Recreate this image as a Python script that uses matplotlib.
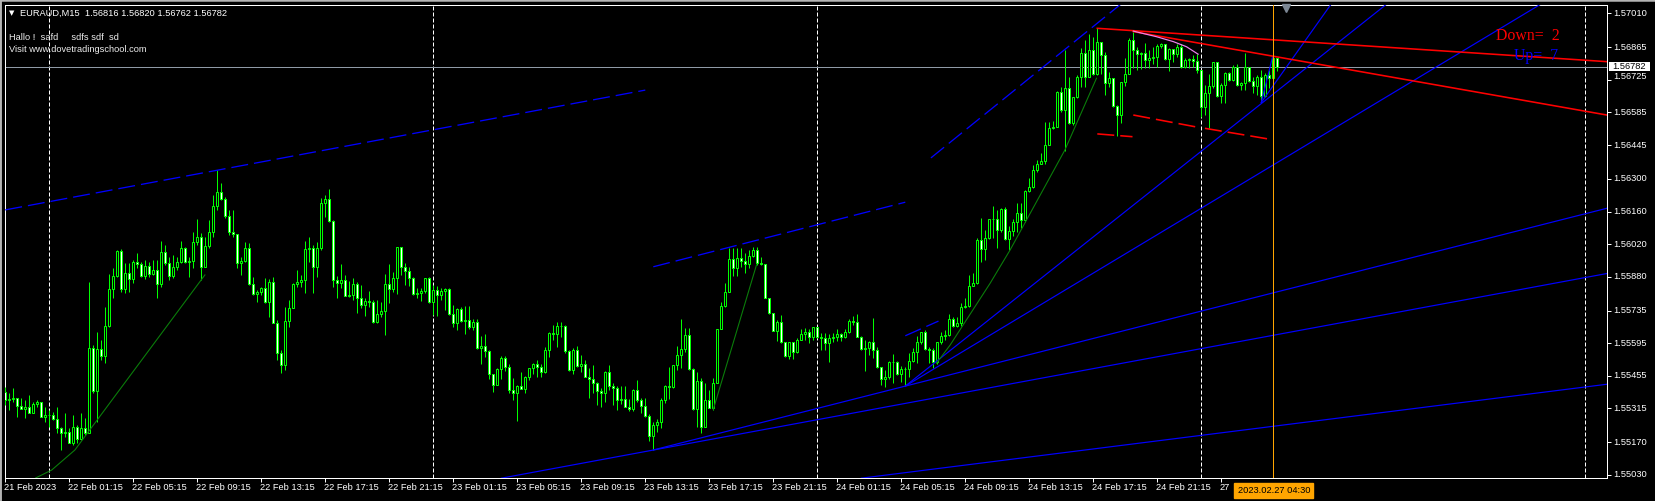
import numpy as np
import matplotlib.pyplot as plt
from matplotlib.lines import Line2D
from matplotlib.patches import Rectangle

# ---------------- data (EURAUD, M15) ----------------
symbol = 'EURAUD,M15'
ohlc_now = [1.56816, 1.56820, 1.56762, 1.56782]
first_open = 1.55387

closes = [
    1.55351, 1.55354, 1.55358, 1.55325, 1.55314, 1.55320, 1.55297, 1.55334, 1.55344, 1.55280, 1.55287, 1.55287, 1.55270, 1.55230, 1.55208, 1.55215,
    1.55168, 1.55237, 1.55183, 1.55230, 1.55208, 1.55573, 1.55390, 1.55569, 1.55540, 1.55670, 1.55826, 1.55885, 1.55990, 1.55827, 1.55895, 1.55870,
    1.55942, 1.55935, 1.55885, 1.55928, 1.55892, 1.55909, 1.55847, 1.55985, 1.55938, 1.55883, 1.55923, 1.55942, 1.56005, 1.55945, 1.55948, 1.56030,
    1.56052, 1.55920, 1.56013, 1.56073, 1.56185, 1.56245, 1.56213, 1.56141, 1.56073, 1.56062, 1.55938, 1.55948, 1.56002, 1.55849, 1.55805, 1.55816,
    1.55830, 1.55773, 1.55859, 1.55680, 1.55554, 1.55500, 1.55692, 1.55747, 1.55847, 1.55859, 1.55866, 1.55998, 1.56002, 1.55923, 1.56005, 1.56195,
    1.56213, 1.56121, 1.55866, 1.55852, 1.55866, 1.55799, 1.55804, 1.55849, 1.55790, 1.55761, 1.55776, 1.55770, 1.55687, 1.55719, 1.55733, 1.55849,
    1.55826, 1.55873, 1.56006, 1.55920, 1.55906, 1.55876, 1.55806, 1.55809, 1.55820, 1.55873, 1.55773, 1.55823, 1.55801, 1.55819, 1.55826, 1.55720,
    1.55680, 1.55740, 1.55691, 1.55694, 1.55666, 1.55684, 1.55575, 1.55583, 1.55563, 1.55463, 1.55415, 1.55483, 1.55530, 1.55494, 1.55394, 1.55382,
    1.55411, 1.55398, 1.55450, 1.55487, 1.55505, 1.55494, 1.55473, 1.55568, 1.55641, 1.55633, 1.55670, 1.55671, 1.55563, 1.55480, 1.55568, 1.55498,
    1.55505, 1.55451, 1.55440, 1.55423, 1.55390, 1.55380, 1.55473, 1.55413, 1.55404, 1.55351, 1.55354, 1.55322, 1.55312, 1.55394, 1.55351, 1.55327,
    1.55284, 1.55198, 1.55244, 1.55258, 1.55351, 1.55411, 1.55409, 1.55501, 1.55544, 1.55570, 1.55630, 1.55484, 1.55313, 1.55434, 1.55237, 1.55351,
    1.55318, 1.55423, 1.55654, 1.55756, 1.55816, 1.55955, 1.55919, 1.55959, 1.55949, 1.55933, 1.55970, 1.55995, 1.55940, 1.55933, 1.55790, 1.55723,
    1.55649, 1.55685, 1.55599, 1.55540, 1.55599, 1.55556, 1.55609, 1.55634, 1.55642, 1.55620, 1.55663, 1.55620, 1.55616, 1.55597, 1.55619, 1.55620,
    1.55634, 1.55623, 1.55642, 1.55690, 1.55685, 1.55623, 1.55569, 1.55573, 1.55602, 1.55566, 1.55491, 1.55440, 1.55451, 1.55513, 1.55516, 1.55461,
    1.55483, 1.55484, 1.55520, 1.55556, 1.55599, 1.55642, 1.55570, 1.55566, 1.55516, 1.55599, 1.55627, 1.55630, 1.55697, 1.55670, 1.55680, 1.55752,
    1.55755, 1.55842, 1.55852, 1.56038, 1.55999, 1.56045, 1.56128, 1.56128, 1.56081, 1.56171, 1.56041, 1.56076, 1.56116, 1.56152, 1.56124, 1.56249,
    1.56264, 1.56338, 1.56362, 1.56377, 1.56445, 1.56520, 1.56524, 1.56671, 1.56595, 1.56691, 1.56538, 1.56650, 1.56738, 1.56841, 1.56738, 1.56853,
    1.56748, 1.56889, 1.56831, 1.56710, 1.56731, 1.56614, 1.56574, 1.56714, 1.56750, 1.56896, 1.56853, 1.56834, 1.56839, 1.56810, 1.56817, 1.56824,
    1.56871, 1.56877, 1.56814, 1.56857, 1.56834, 1.56867, 1.56781, 1.56810, 1.56813, 1.56806, 1.56767, 1.56610, 1.56667, 1.56698, 1.56800, 1.56655,
    1.56703, 1.56753, 1.56724, 1.56781, 1.56703, 1.56713, 1.56781, 1.56720, 1.56700, 1.56736, 1.56657, 1.56746, 1.56734, 1.56817, 1.56782,
]
highs = [
    1.55408, 1.55380, 1.55401, 1.55358, 1.55358, 1.55351, 1.55373, 1.55344, 1.55351, 1.55344, 1.55323, 1.55308, 1.55301, 1.55323, 1.55237, 1.55294,
    1.55230, 1.55287, 1.55244, 1.55294, 1.55273, 1.55859, 1.55587, 1.55644, 1.55609, 1.55752, 1.55892, 1.55916, 1.55995, 1.55999, 1.55938, 1.55938,
    1.55952, 1.55983, 1.55945, 1.55952, 1.55945, 1.55952, 1.55952, 1.56033, 1.56016, 1.55963, 1.55973, 1.55963, 1.56033, 1.56009, 1.55963, 1.56073,
    1.56128, 1.56066, 1.56052, 1.56123, 1.56231, 1.56338, 1.56281, 1.56221, 1.56166, 1.56166, 1.56055, 1.55966, 1.56030, 1.56023, 1.55880, 1.55823,
    1.55837, 1.55876, 1.55869, 1.55880, 1.55694, 1.55566, 1.55749, 1.55780, 1.55852, 1.55909, 1.55887, 1.56033, 1.56052, 1.56016, 1.56030, 1.56216,
    1.56231, 1.56256, 1.56123, 1.55883, 1.55937, 1.55887, 1.55862, 1.55873, 1.55856, 1.55844, 1.55790, 1.55819, 1.55780, 1.55780, 1.55770, 1.55892,
    1.55934, 1.55899, 1.56009, 1.56009, 1.55940, 1.55923, 1.55880, 1.55830, 1.55833, 1.55873, 1.55877, 1.55844, 1.55840, 1.55830, 1.55830, 1.55830,
    1.55759, 1.55744, 1.55751, 1.55754, 1.55754, 1.55701, 1.55698, 1.55626, 1.55634, 1.55568, 1.55465, 1.55487, 1.55540, 1.55541, 1.55504, 1.55444,
    1.55415, 1.55470, 1.55455, 1.55490, 1.55511, 1.55525, 1.55508, 1.55580, 1.55644, 1.55673, 1.55684, 1.55684, 1.55673, 1.55568, 1.55573, 1.55584,
    1.55544, 1.55525, 1.55487, 1.55501, 1.55430, 1.55401, 1.55475, 1.55501, 1.55425, 1.55413, 1.55411, 1.55411, 1.55354, 1.55397, 1.55437, 1.55358,
    1.55358, 1.55290, 1.55258, 1.55270, 1.55358, 1.55415, 1.55494, 1.55501, 1.55584, 1.55699, 1.55659, 1.55659, 1.55487, 1.55473, 1.55444, 1.55423,
    1.55394, 1.55444, 1.55654, 1.55773, 1.55852, 1.56002, 1.56002, 1.56002, 1.56005, 1.55981, 1.55995, 1.56009, 1.56009, 1.55963, 1.55933, 1.55787,
    1.55723, 1.55695, 1.55716, 1.55602, 1.55602, 1.55559, 1.55616, 1.55654, 1.55659, 1.55654, 1.55666, 1.55654, 1.55637, 1.55637, 1.55633, 1.55640,
    1.55656, 1.55640, 1.55656, 1.55699, 1.55713, 1.55720, 1.55627, 1.55609, 1.55604, 1.55705, 1.55580, 1.55494, 1.55480, 1.55519, 1.55549, 1.55520,
    1.55497, 1.55491, 1.55552, 1.55573, 1.55626, 1.55644, 1.55652, 1.55580, 1.55573, 1.55602, 1.55644, 1.55652, 1.55720, 1.55709, 1.55709, 1.55769,
    1.55787, 1.55888, 1.55895, 1.56045, 1.56131, 1.56081, 1.56128, 1.56185, 1.56166, 1.56177, 1.56181, 1.56099, 1.56128, 1.56195, 1.56195, 1.56252,
    1.56302, 1.56360, 1.56381, 1.56409, 1.56543, 1.56545, 1.56548, 1.56677, 1.56696, 1.56853, 1.56738, 1.56650, 1.56746, 1.56860, 1.56896, 1.56920,
    1.56907, 1.56946, 1.56889, 1.56843, 1.56760, 1.56731, 1.56617, 1.56717, 1.56817, 1.56903, 1.56932, 1.56867, 1.56846, 1.56881, 1.56853, 1.56864,
    1.56877, 1.56881, 1.56879, 1.56863, 1.56843, 1.56877, 1.56877, 1.56817, 1.56817, 1.56831, 1.56834, 1.56660, 1.56703, 1.56748, 1.56803, 1.56803,
    1.56710, 1.56760, 1.56760, 1.56788, 1.56791, 1.56717, 1.56839, 1.56781, 1.56738, 1.56746, 1.56767, 1.56753, 1.56767, 1.56831, 1.56820,
]
lows = [
    1.55330, 1.55308, 1.55344, 1.55280, 1.55311, 1.55273, 1.55294, 1.55294, 1.55323, 1.55277, 1.55258, 1.55237, 1.55265, 1.55208, 1.55137, 1.55194,
    1.55165, 1.55158, 1.55165, 1.55180, 1.55201, 1.55208, 1.55380, 1.55258, 1.55523, 1.55509, 1.55666, 1.55787, 1.55880, 1.55816, 1.55809, 1.55816,
    1.55852, 1.55916, 1.55880, 1.55869, 1.55880, 1.55887, 1.55787, 1.55837, 1.55930, 1.55866, 1.55873, 1.55909, 1.55938, 1.55938, 1.55877, 1.55916,
    1.56016, 1.55866, 1.55920, 1.56002, 1.56052, 1.56166, 1.56209, 1.56131, 1.56059, 1.56049, 1.55916, 1.55887, 1.55945, 1.55845, 1.55802, 1.55773,
    1.55802, 1.55766, 1.55709, 1.55680, 1.55523, 1.55466, 1.55480, 1.55666, 1.55744, 1.55837, 1.55837, 1.55809, 1.55945, 1.55809, 1.55880, 1.55995,
    1.56138, 1.56116, 1.55837, 1.55791, 1.55830, 1.55799, 1.55794, 1.55780, 1.55726, 1.55744, 1.55713, 1.55751, 1.55683, 1.55680, 1.55708, 1.55630,
    1.55769, 1.55816, 1.55806, 1.55887, 1.55844, 1.55840, 1.55801, 1.55787, 1.55776, 1.55809, 1.55769, 1.55716, 1.55711, 1.55780, 1.55737, 1.55716,
    1.55666, 1.55651, 1.55687, 1.55634, 1.55658, 1.55651, 1.55570, 1.55505, 1.55537, 1.55441, 1.55387, 1.55415, 1.55441, 1.55477, 1.55382, 1.55351,
    1.55261, 1.55398, 1.55380, 1.55437, 1.55465, 1.55448, 1.55448, 1.55468, 1.55537, 1.55608, 1.55580, 1.55623, 1.55554, 1.55477, 1.55465, 1.55494,
    1.55470, 1.55448, 1.55361, 1.55380, 1.55332, 1.55322, 1.55344, 1.55394, 1.55332, 1.55308, 1.55334, 1.55320, 1.55305, 1.55304, 1.55344, 1.55294,
    1.55280, 1.55177, 1.55137, 1.55215, 1.55232, 1.55340, 1.55354, 1.55401, 1.55480, 1.55487, 1.55559, 1.55480, 1.55308, 1.55237, 1.55208, 1.55237,
    1.55316, 1.55308, 1.55423, 1.55659, 1.55752, 1.55816, 1.55883, 1.55883, 1.55923, 1.55895, 1.55916, 1.55966, 1.55930, 1.55930, 1.55787, 1.55720,
    1.55649, 1.55606, 1.55597, 1.55537, 1.55526, 1.55526, 1.55552, 1.55609, 1.55609, 1.55594, 1.55609, 1.55616, 1.55566, 1.55566, 1.55516, 1.55602,
    1.55606, 1.55606, 1.55616, 1.55637, 1.55673, 1.55620, 1.55566, 1.55477, 1.55544, 1.55530, 1.55487, 1.55416, 1.55406, 1.55441, 1.55423, 1.55459,
    1.55430, 1.55411, 1.55451, 1.55516, 1.55509, 1.55592, 1.55566, 1.55509, 1.55487, 1.55504, 1.55592, 1.55609, 1.55627, 1.55666, 1.55666, 1.55669,
    1.55745, 1.55752, 1.55842, 1.55849, 1.55945, 1.55952, 1.56042, 1.56048, 1.56002, 1.56074, 1.56038, 1.55995, 1.56056, 1.56074, 1.56088, 1.56116,
    1.56245, 1.56259, 1.56331, 1.56374, 1.56362, 1.56445, 1.56514, 1.56521, 1.56588, 1.56420, 1.56534, 1.56531, 1.56646, 1.56696, 1.56696, 1.56738,
    1.56746, 1.56746, 1.56748, 1.56660, 1.56696, 1.56610, 1.56485, 1.56538, 1.56700, 1.56748, 1.56774, 1.56767, 1.56771, 1.56777, 1.56774, 1.56791,
    1.56781, 1.56860, 1.56810, 1.56763, 1.56803, 1.56824, 1.56777, 1.56777, 1.56777, 1.56781, 1.56753, 1.56567, 1.56574, 1.56517, 1.56691, 1.56653,
    1.56624, 1.56624, 1.56720, 1.56720, 1.56700, 1.56681, 1.56681, 1.56717, 1.56667, 1.56660, 1.56628, 1.56653, 1.56688, 1.56717, 1.56762,
]

# time axis: one label every 16 bars (the last one is cut off by the cursor box)
time_ticks = [0, 16, 32, 48, 64, 80, 96, 112, 128, 144, 160, 176, 192, 208, 224, 240, 256, 272, 288, 304]
time_labels = ['21 Feb 2023', '22 Feb 01:15', '22 Feb 05:15', '22 Feb 09:15', '22 Feb 13:15',
               '22 Feb 17:15', '22 Feb 21:15', '23 Feb 01:15', '23 Feb 05:15', '23 Feb 09:15',
               '23 Feb 13:15', '23 Feb 17:15', '23 Feb 21:15', '24 Feb 01:15', '24 Feb 05:15',
               '24 Feb 09:15', '24 Feb 13:15', '24 Feb 17:15', '24 Feb 21:15', '27']
day_breaks = [11, 107, 203, 299, 395]
cursor_bar = 317
cursor_label = '2023.02.27 04:30'
price_ticks = [1.57010, 1.56865, 1.56725, 1.56585, 1.56445, 1.56300, 1.56160, 1.56020,
               1.55880, 1.55735, 1.55595, 1.55455, 1.55315, 1.55170, 1.55030]

# chart objects, as (bar, price) anchors
blue_dashed = [
    [(0, 1.56167), (160, 1.56681)],
    [(162, 1.55923), (225, 1.56200)],
    [(231.4, 1.56390), (282, 1.57093)],
    [(225, 1.55627), (233.3, 1.55690)],
]
blue_solid = [
    [(162, 1.55137), (400.4, 1.56174)],
    [(124, 1.55016), (400.4, 1.55894)],
    [(214, 1.55016), (400.4, 1.55419)],
    [(225, 1.55411), (345.2, 1.57048)],
    [(225, 1.55411), (383.7, 1.57048)],
    [(314, 1.56628), (331.3, 1.57046)],
    [(314, 1.56628), (316.8, 1.56823)],
]
green_curves = [
    [(7.6, 1.55017), (11.6, 1.55051), (17.4, 1.55137), (49.9, 1.55888)],
    [(177, 1.55311), (187.8, 1.55931)],
    [(232.8, 1.55509), (236.2, 1.55587), (246.2, 1.55852), (251.2, 1.55995), (264.9, 1.56424), (272.8, 1.56732)],
]
red_solid = [
    [(273, 1.56946), (400.4, 1.56803)],
    [(282, 1.56932), (400.4, 1.56574)],
]
red_dashed = [
    [(273, 1.56493), (281.8, 1.56481)],
    [(282, 1.56574), (298.3, 1.56521)],
    [(299.9, 1.56517), (316.2, 1.56470)],
]
violet_curve = [(282, 1.56934), (287.8, 1.56910), (292, 1.56889), (295.3, 1.56867), (298.2, 1.56835)]

info_lines = ['Hallo !  safd     sdfs sdf  sd', 'Visit www.dovetradingschool.com']
down_count, up_count = 2, 7

# ---------------- drawing ----------------
W, H, DPI = 1655, 501, 100
PX = 72 / DPI
LIME = '#00ff00'
plt.rcParams['lines.scale_dashes'] = False
plt.rcParams['font.family'] = ['Liberation Sans', 'DejaVu Sans']
FS = 6.7


def fx(px):
    return px / W


def fy(py):
    return 1 - py / H


fig = plt.figure(figsize=(W / DPI, H / DPI), dpi=DPI, facecolor='black')
L, R, T, B = 4.5, 1607, 4.7, 478
ax = fig.add_axes([fx(L), fy(B), (R - L) / W, (B - T) / H], facecolor='black')
ax.set_xlim((L - 5.3) / 4, (R - 5.3) / 4)
ax.set_ylim(1.550168, 1.570473)
for s in ax.spines.values():
    s.set_color('white')
    s.set_linewidth(PX)

# candles
c = np.array(closes)
o = np.r_[first_open, c[:-1]]
top = np.maximum(o, c)
bot = np.minimum(o, c)
hi = np.maximum(np.array(highs), top)
lo = np.minimum(np.array(lows), bot)
bars = np.arange(len(c))
ax.vlines(bars, lo, hi, color=LIME, lw=PX, zorder=3)
ax.bar(bars, top - bot, bottom=bot, width=0.5, color=np.where(c >= o, 'black', 'white'),
       edgecolor=LIME, linewidth=PX, zorder=4)

# day separators and bid line
for d in day_breaks:
    ax.axvline(d, color='white', lw=PX, ls=(0, (4 * PX, 2 * PX)), zorder=1)
ax.axhline(ohlc_now[3], color='#8f9aa6', lw=PX, zorder=2)

dash = (0, (17 * PX, 6 * PX))
for seg in blue_dashed:
    xs, ys = zip(*seg)
    ax.plot(xs, ys, color='#0000ff', lw=1.3 * PX, ls=dash, zorder=5)
for seg in blue_solid:
    xs, ys = zip(*seg)
    ax.plot(xs, ys, color='#0000ff', lw=1.2 * PX, zorder=5)
for seg in green_curves:
    xs, ys = zip(*seg)
    ax.plot(xs, ys, color='#0a7d0a', lw=1.1 * PX, zorder=5)
for seg in red_solid:
    xs, ys = zip(*seg)
    ax.plot(xs, ys, color='#ff0000', lw=1.6 * PX, zorder=5)
for seg in red_dashed:
    xs, ys = zip(*seg)
    ax.plot(xs, ys, color='#ff0000', lw=1.6 * PX, ls=dash, zorder=5)
xs, ys = zip(*violet_curve)
ax.plot(xs, ys, color='#ee82ee', lw=1.2 * PX, zorder=5)

ax.axvline(cursor_bar, color='#ffa500', lw=PX, zorder=6)

# axes ticks and labels
ax.set_xticks(time_ticks)
ax.yaxis.tick_right()
ax.set_yticks(price_ticks)
ax.tick_params(axis='both', colors='white', length=4 * PX, width=PX, direction='out',
               labelbottom=False, labelright=False, labelleft=False)
for t, lbl in zip(time_ticks, time_labels):
    ax.annotate(lbl, (t, 0), xycoords=('data', 'axes fraction'), xytext=(-1.5 * PX, -5.5 * PX),
                textcoords='offset points', ha='left', va='top', color='white', fontsize=FS)
label_nudge = {'1.56725': 3}
for p in price_ticks:
    txt = f'{p:.5f}'
    ax.annotate(txt, (1, p), xycoords=('axes fraction', 'data'),
                xytext=(6.3 * PX, label_nudge.get(txt, 0) * PX), textcoords='offset points',
                ha='left', va='center', color='white', fontsize=FS, annotation_clip=False)

# current price box on the price scale
bid_y = ax.transData.transform((0, ohlc_now[3]))[1]
fig.add_artist(Rectangle((fx(1609), (bid_y - 4.8) / H), 41 / W, 9.6 / H,
                         transform=fig.transFigure, fc='white', ec='none', zorder=9))
fig.text(fx(1612.5), bid_y / H, f'{ohlc_now[3]:.5f}', ha='left', va='center',
         color='black', fontsize=FS, zorder=10)

fig.text(fx(1237.5), fy(490.5), cursor_label, ha='left', va='center', color='black', fontsize=FS,
         bbox=dict(boxstyle='square,pad=0.35', fc='#ffa500', ec='#ffa500'), zorder=10)

# header and comments
fig.text(fx(8.5), fy(13.3), '\u25bc', ha='left', va='center', color='white', fontsize=5,
         family=['DejaVu Sans'])
fig.text(fx(20), fy(13.3), f'{symbol}  ' + ' '.join(f'{v:.5f}' for v in ohlc_now),
         ha='left', va='center', color='white', fontsize=FS)
fig.text(fx(9.3), fy(37.7), info_lines[0], ha='left', va='center', color='#ececec', fontsize=FS)
fig.text(fx(9.3), fy(50), info_lines[1], ha='left', va='center', color='#ececec', fontsize=FS)

fig.text(fx(1495.8), fy(40), f'Down=  {down_count}', ha='left', va='baseline', color='#ff0000',
         fontsize=11.4, family=['Liberation Serif'])
fig.text(fx(1513.8), fy(60), f'Up=  {up_count}', ha='left', va='baseline', color='#0000ff',
         fontsize=11.4, family=['Liberation Serif'])

# chart shift marker
fig.add_artist(Line2D([fx(1285.5)], [fy(7.5)], marker='v', ms=8 * PX, color='#7c8794',
                      transform=fig.transFigure))

# window frame
for xy in ([(0, 0), (0, 1)], [(0, 1), (1, 1)], [(0, 1), (0, 0)]):
    (x0, y0), (x1, y1) = xy
    fig.add_artist(Line2D([x0, x1], [y0, y1], color='#b4b4b4', lw=3.5 * PX,
                          transform=fig.transFigure))

fig.savefig('out.png', dpi=DPI, facecolor='black')
